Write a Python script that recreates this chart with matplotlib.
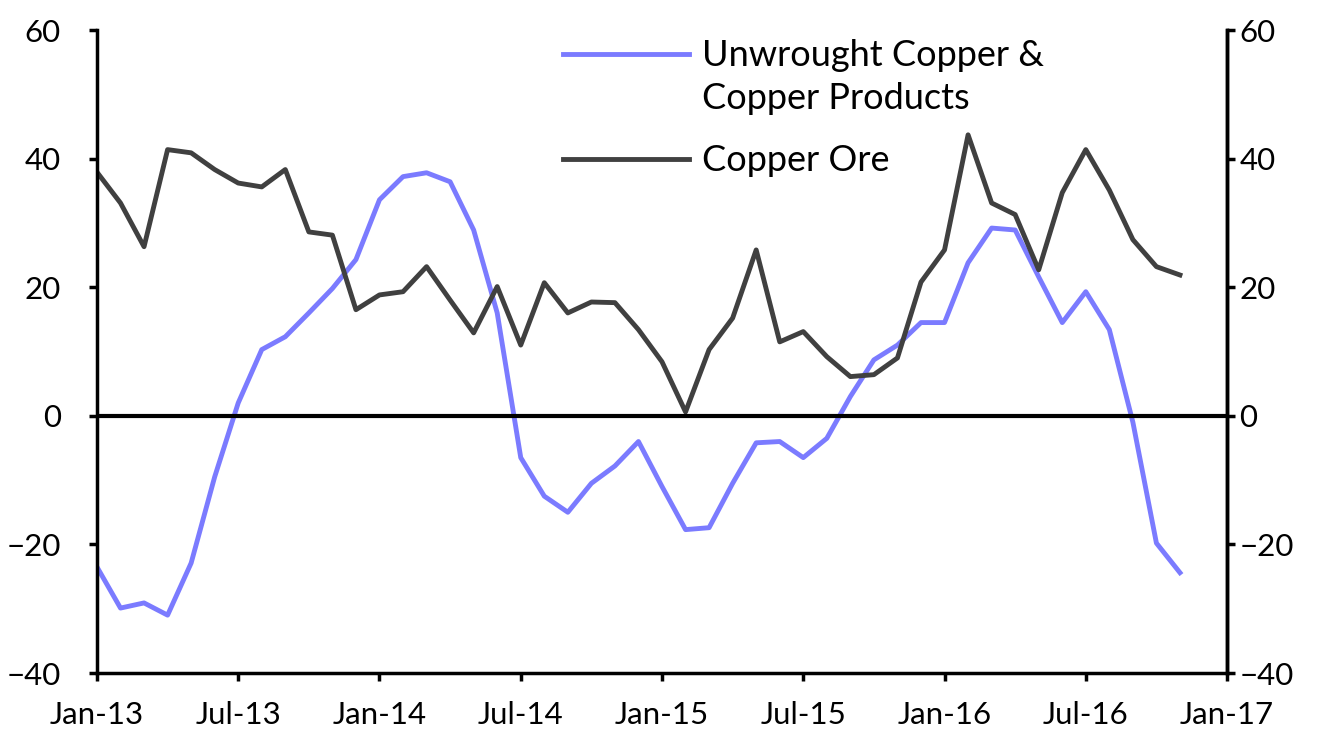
import matplotlib
matplotlib.use("Agg")
import matplotlib.pyplot as plt

# monthly data, Jan-13 .. Nov-16 (month index 0 = Jan-13)
months = list(range(47))
unwrought = [-23.5, -29.9, -29.1, -31.0, -22.9, -9.5, 2.0, 10.3, 12.3, 16.0,
             19.8, 24.3, 33.6, 37.2, 37.8, 36.4, 28.9, 16.0, -6.5, -12.5,
             -15.0, -10.5, -7.8, -4.0, -11.0, -17.7, -17.4, -10.5, -4.2, -4.0,
             -6.5, -3.5, 3.0, 8.7, 11.0, 14.5, 14.5, 23.8, 29.2, 28.9,
             21.6, 14.5, 19.3, 13.4, -1.0, -19.8, -24.4]
ore = [37.9, 33.1, 26.3, 41.4, 40.9, 38.3, 36.2, 35.6, 38.3, 28.6,
       28.1, 16.5, 18.8, 19.3, 23.2, 18.0, 12.9, 20.1, 11.0, 20.7,
       16.0, 17.7, 17.6, 13.4, 8.4, 0.6, 10.3, 15.2, 25.8, 11.5,
       13.1, 9.2, 6.1, 6.4, 9.0, 20.8, 25.8, 43.7, 33.1, 31.3,
       22.7, 34.7, 41.4, 35.1, 27.4, 23.2, 21.9]
tick_pos = [0, 6, 12, 18, 24, 30, 36, 42, 48]
tick_labels = ['Jan-13', 'Jul-13', 'Jan-14', 'Jul-14', 'Jan-15', 'Jul-15',
               'Jan-16', 'Jul-16', 'Jan-17']

plt.rcParams['font.family'] = ['Lato', 'DejaVu Sans']
plt.rcParams['font.size'] = 22.5

fig = plt.figure(figsize=(13.3, 7.43), dpi=100)
ax = fig.add_axes([0.0729, 0.0942, 0.8497, 0.8654])

ax.plot(months, unwrought, color='#7b7bff', lw=3.5, label='Unwrought Copper &\nCopper Products')
ax.plot(months, ore, color='#404040', lw=3.5, label='Copper Ore')
ax.axhline(0, color='black', lw=3)

ax.set_xlim(0, 48)
ax.set_ylim(-40, 60)
ax.set_yticks([-40, -20, 0, 20, 40, 60])
ax.set_xticks(tick_pos)
ax.set_xticklabels(tick_labels)

ax.spines['top'].set_visible(False)
for s in ['left', 'right', 'bottom']:
    ax.spines[s].set_linewidth(2.5)
ax.tick_params(axis='y', direction='out', length=6, width=2.5, pad=20, colors='black')
ax.tick_params(axis='x', direction='out', length=6, width=2.5, pad=14)

ax2 = ax.twinx()
ax2.set_ylim(-40, 60)
ax2.set_yticks([-40, -20, 0, 20, 40, 60])
ax2.spines['top'].set_visible(False)
ax2.spines['right'].set_linewidth(2.5)
ax2.tick_params(axis='y', direction='out', length=6, width=2.5, pad=3)

leg = ax.legend(loc='upper left', bbox_to_anchor=(0.423, 0.948), bbox_transform=fig.transFigure,
                frameon=False, handlelength=3.5, handletextpad=0.35, borderpad=0,
                borderaxespad=0, labelspacing=0.8, fontsize=26)
leg.get_texts()[0].set_linespacing(1.4)
# put the blue handle level with the first line of its two-line label
h = leg.legend_handles[0]
y = h.get_ydata()
h.set_ydata([v + 17.5 for v in y])

fig.savefig('out.png', dpi=100)
